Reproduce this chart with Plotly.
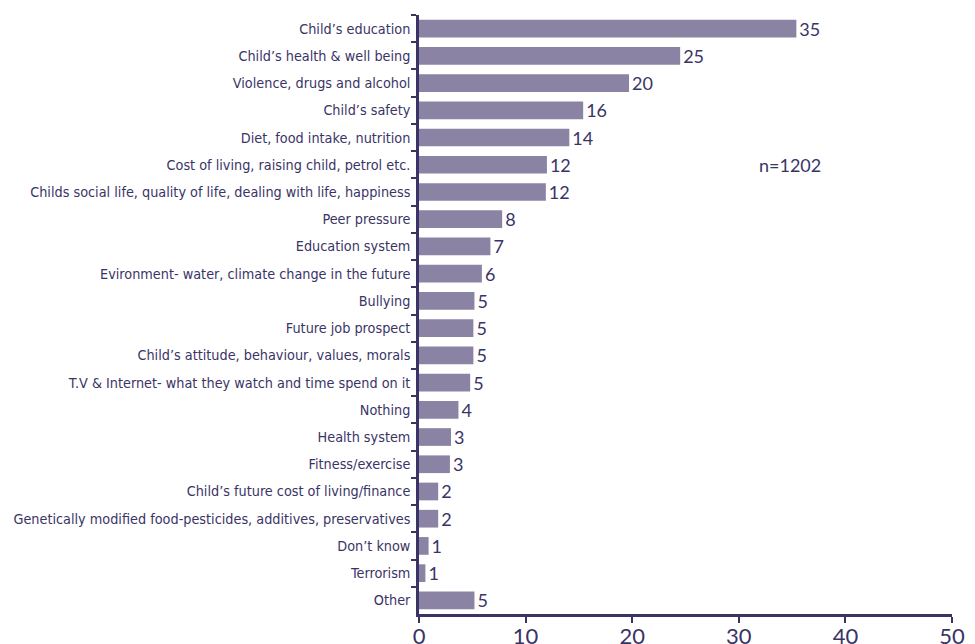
import plotly.graph_objects as go

categories = [
    "Child’s education",
    "Child’s health & well being",
    "Violence, drugs and alcohol",
    "Child’s safety",
    "Diet, food intake, nutrition",
    "Cost of living, raising child, petrol etc.",
    "Childs social life, quality of life, dealing with life, happiness",
    "Peer pressure",
    "Education system",
    "Evironment- water, climate change in the future",
    "Bullying",
    "Future job prospect",
    "Child’s attitude, behaviour, values, morals",
    "T.V & Internet- what they watch and time spend on it",
    "Nothing",
    "Health system",
    "Fitness/exercise",
    "Child’s future cost of living/finance",
    "Genetically modified food-pesticides, additives, preservatives",
    "Don’t know",
    "Terrorism",
    "Other",
]
bar_values = [35.4, 24.5, 19.7, 15.4, 14.1, 12.0, 11.9, 7.8, 6.7, 5.9, 5.2, 5.1,
              5.1, 4.8, 3.7, 3.0, 2.9, 1.8, 1.8, 0.9, 0.6, 5.2]
value_labels = [35, 25, 20, 16, 14, 12, 12, 8, 7, 6, 5, 5, 5, 5, 4, 3, 3, 2, 2, 1, 1, 5]
x_ticks = [0, 10, 20, 30, 40, 50]
note = "n=1202"

INK = "#3a3466"
BAR = "#8a83a3"

fig = go.Figure(go.Bar(
    x=bar_values,
    y=categories,
    orientation="h",
    marker=dict(color=BAR, line=dict(width=0)),
    text=[str(v) for v in value_labels],
    textposition="outside",
    constraintext="none",
    textangle=0,
    textfont=dict(family="Lato, Open Sans, sans-serif", size=18, color=INK),
    cliponaxis=False,
    hoverinfo="skip",
))

fig.update_layout(
    width=975, height=644,
    margin=dict(l=419, r=23, t=15, b=30, autoexpand=False),
    paper_bgcolor="white", plot_bgcolor="white",
    bargap=0.35,
    showlegend=False,
    annotations=[dict(
        text=note, x=0.696, y=0.749, xref="paper", yref="paper",
        showarrow=False, xanchor="center", yanchor="middle",
        font=dict(family="Lato, Open Sans, sans-serif", size=18, color=INK),
    )],
)

fig.update_xaxes(
    range=[0, 50], tickvals=x_ticks, showgrid=False, zeroline=False,
    showline=True, linecolor=INK, linewidth=2.5, automargin=False,
    ticks="outside", ticklen=6, tickwidth=2, tickcolor=INK,
    ticklabelstandoff=-5,
    tickfont=dict(family="Lato, Open Sans, sans-serif", size=22, color=INK),
)
fig.update_yaxes(
    categoryorder="array", categoryarray=categories, autorange="reversed",
    showgrid=False, zeroline=False, automargin=False,
    showline=True, linecolor=INK, linewidth=2.5,
    ticks="outside", tickson="boundaries", ticklen=5, tickwidth=2, tickcolor=INK,
    ticklabelstandoff=3,
    tickfont=dict(family="DejaVu Sans Condensed, Roboto Condensed, Liberation Sans Narrow, sans-serif",
                  size=14.3, color=INK),
)

fig.write_html("out.html")
